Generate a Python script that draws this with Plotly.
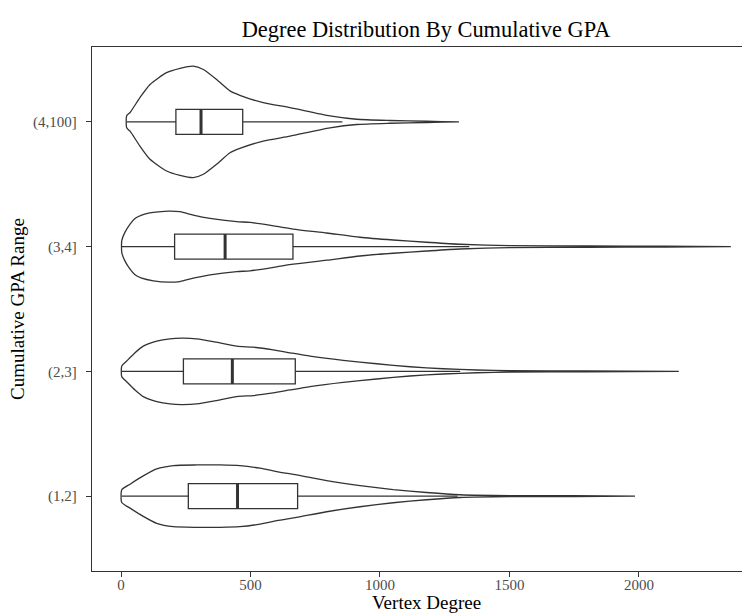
import plotly.graph_objects as go

# ---------------- data ----------------
categories = ["(1,2]", "(2,3]", "(3,4]", "(4,100]"]
cat_pos = [1, 2, 3, 4]

# violin outlines: vertex degree positions and half-widths (category units)
deg_12 = [3, 35, 86, 138, 202, 292, 382, 459, 537, 601, 678, 794, 923, 1051, 1180, 1309, 1502, 1750, 1985]
hw_12 = [0.051, 0.096, 0.162, 0.218, 0.245, 0.250, 0.250, 0.245, 0.224, 0.197, 0.170, 0.125, 0.085, 0.053,
         0.029, 0.011, 0.004, 0.004, 0.0]

deg_23 = [3, 22, 54, 86, 138, 189, 234, 292, 369, 447, 511, 588, 653, 730, 858, 987, 1116, 1244, 1373, 1502,
          1800, 2154]
hw_23 = [0.043, 0.083, 0.149, 0.202, 0.242, 0.261, 0.266, 0.261, 0.234, 0.202, 0.194, 0.173, 0.149, 0.122,
         0.088, 0.061, 0.037, 0.021, 0.011, 0.005, 0.004, 0.0]

deg_34 = [3, 15, 35, 54, 80, 125, 183, 228, 279, 344, 447, 498, 601, 665, 794, 923, 1051, 1180, 1309, 1502,
          1800, 2100, 2355]
hw_34 = [0.048, 0.114, 0.181, 0.226, 0.253, 0.274, 0.285, 0.280, 0.253, 0.226, 0.200, 0.194, 0.162, 0.141,
         0.109, 0.075, 0.053, 0.035, 0.019, 0.008, 0.005, 0.004, 0.0]

deg_4100 = [22, 35, 73, 112, 176, 228, 279, 318, 369, 421, 459, 549, 653, 807, 910, 1039, 1180, 1305]
hw_4100 = [0.048, 0.075, 0.194, 0.300, 0.394, 0.429, 0.447, 0.420, 0.340, 0.248, 0.213, 0.154, 0.114, 0.048,
           0.021, 0.011, 0.005, 0.0]

violin_deg = [deg_12, deg_23, deg_34, deg_4100]
violin_hw = [hw_12, hw_23, hw_34, hw_4100]

# box plot statistics
box_lower = [3, 3, 3, 22]
box_q1 = [260, 241, 207, 212]
box_median = [450, 430, 402, 309]
box_q3 = [682, 673, 664, 470]
box_upper = [1300, 1310, 1345, 855]

x_ticks = [0, 500, 1000, 1500, 2000]

# ---------------- figure ----------------
LINE = "#333333"
FONT = "Liberation Serif, Times New Roman, serif"
BOX_W = 0.2

# page body has an 8px margin: the figure is sized to fill the rest of the window
FIG_W, FIG_H = 742, 605
M_L, M_T, M_B = 84, 39, 42
PLOT_W = FIG_W - M_L
PLOT_H = FIG_H - M_T - M_B

fig = go.Figure()

for pos, xs, ws in zip(cat_pos, violin_deg, violin_hw):
    px = list(xs) + list(xs[::-1]) + [xs[0]]
    py = [pos + w for w in ws] + [pos - w for w in ws[::-1]] + [pos + ws[0]]
    fig.add_trace(go.Scatter(
        x=px, y=py, mode="lines",
        line=dict(color=LINE, width=1.3, shape="spline", smoothing=0.6),
        hoverinfo="skip", showlegend=False,
    ))

for i, pos in enumerate(cat_pos):
    fig.add_trace(go.Box(
        y=[pos], orientation="h",
        q1=[box_q1[i]], median=[box_median[i]], q3=[box_q3[i]],
        lowerfence=[box_lower[i]], upperfence=[box_upper[i]],
        width=BOX_W, whiskerwidth=0,
        fillcolor="white", line=dict(color=LINE, width=1.3),
        boxpoints=False, hoverinfo="skip", showlegend=False,
    ))
    # thicker median line (ggplot style)
    fig.add_trace(go.Scatter(
        x=[box_median[i], box_median[i]], y=[pos - BOX_W / 2, pos + BOX_W / 2],
        mode="lines", line=dict(color=LINE, width=3),
        hoverinfo="skip", showlegend=False,
    ))

x_center_paper = (426 - 8 - M_L) / PLOT_W

fig.update_layout(
    width=FIG_W, height=FIG_H,
    margin=dict(l=M_L, r=0, t=M_T, b=M_B, autoexpand=False),
    paper_bgcolor="white", plot_bgcolor="white",
    font=dict(family=FONT, size=15, color="#4d4d4d"),
    showlegend=False,
    title=dict(
        text="Degree Distribution By Cumulative GPA",
        font=dict(family=FONT, size=22.4, color="black"),
        x=x_center_paper, xref="paper", xanchor="center",
        y=1 - 21 / FIG_H, yref="container", yanchor="middle",
    ),
    xaxis=dict(
        range=[-112, 2429], tickvals=x_ticks, ticktext=[str(v) for v in x_ticks],
        showgrid=False, zeroline=False,
        showline=True, linecolor=LINE, linewidth=1.3, mirror=True,
        ticks="outside", ticklen=5, tickwidth=1.1, tickcolor=LINE,
        tickfont=dict(family=FONT, size=15, color="#4d4d4d"),
        ticklabelstandoff=-5,
    ),
    yaxis=dict(
        range=[0.4, 4.6], tickvals=cat_pos, ticktext=categories,
        showgrid=False, zeroline=False,
        showline=True, linecolor=LINE, linewidth=1.3,
        ticks="outside", ticklen=5, tickwidth=1.1, tickcolor=LINE,
        tickfont=dict(family=FONT, size=15, color="#4d4d4d"),
        ticklabelstandoff=6,
    ),
    annotations=[
        dict(text="Vertex Degree", xref="paper", yref="paper",
             x=x_center_paper, y=-(582 - (FIG_H - M_B)) / PLOT_H, xanchor="center", yanchor="top",
             showarrow=False, font=dict(family=FONT, size=19, color="black")),
        dict(text="Cumulative GPA Range", xref="paper", yref="paper",
             x=(9 - M_L) / PLOT_W, y=0.5, xanchor="center", yanchor="middle", textangle=-90,
             showarrow=False, font=dict(family=FONT, size=19, color="black")),
    ],
)

fig.write_html("out.html")
